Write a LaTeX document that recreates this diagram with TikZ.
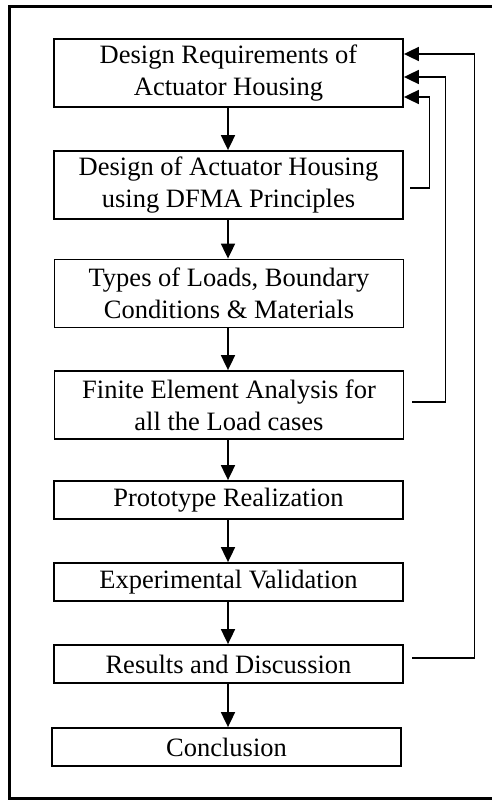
\documentclass[tikz,border=0pt]{standalone}
\usepackage{fontspec}
\setmainfont{Liberation Serif}
\usetikzlibrary{arrows.meta,calc}
\begin{document}
\begin{tikzpicture}[x=1pt,y=-1pt,
  stepbox/.style={draw,line width=1.8pt,minimum width=349pt,inner sep=0pt,
    align=center,font=\fontsize{26.5}{31.7}\selectfont},
  twoline/.style={stepbox,minimum height=68pt},
  oneline/.style={stepbox,minimum height=38pt},
  arr/.style={line width=1.8pt,-{Triangle[length=15pt,width=14pt]}},
  fb/.style={line width=1.8pt,-{Triangle[length=15pt,width=14pt]}}]
\useasboundingbox (0,0) rectangle (492,800);
\clip (0,0) rectangle (492,800);
% frame
\draw[line width=3pt] (9.5,6.5) rectangle (520,798.5);
% boxes
\node[twoline] (b1) at (228.5,73) {Design Requirements of\\Actuator Housing};
\node[twoline] (b2) at (228.5,185) {Design of Actuator Housing\\using DFMA Principles};
\node[twoline] (b3) at (229,293.5) {Types of Loads, Boundary\\Conditions \& Materials};
\node[twoline] (b4) at (229,405) {Finite Element Analysis for\\all the Load cases};
\node[oneline] (b5) at (228.5,500) {Prototype Realization};
\node[oneline] (b6) at (228.5,582) {Experimental Validation};
\node[oneline] (b7) at (228.5,664) {Results and Discussion};
\node[oneline] (b8) at (226.5,747) {Conclusion};
% down arrows
\foreach \a/\b in {b1/b2,b2/b3,b3/b4,b4/b5,b5/b6,b6/b7,b7/b8}
  \draw[arr] (\a.south -| 228,0) -- (\b.north -| 228,0);
% feedback
\coordinate (s2) at ($(b2.east)+(6.5,3)$);
\coordinate (t2) at ($(b1.east)+(0,24)$);
\draw[fb] (s2) -| ($(t2)+(25.5,0)$) -- (t2);
\coordinate (s4) at ($(b4.east)+(8,-3)$);
\coordinate (t4) at ($(b1.east)+(0,4)$);
\draw[fb] (s4) -| ($(t4)+(41.5,0)$) -- (t4);
\coordinate (s7) at ($(b7.east)+(8.5,-6)$);
\coordinate (t7) at ($(b1.east)+(0,-19)$);
\draw[fb] (s7) -| ($(t7)+(70.5,0)$) -- (t7);
\end{tikzpicture}
\end{document}
